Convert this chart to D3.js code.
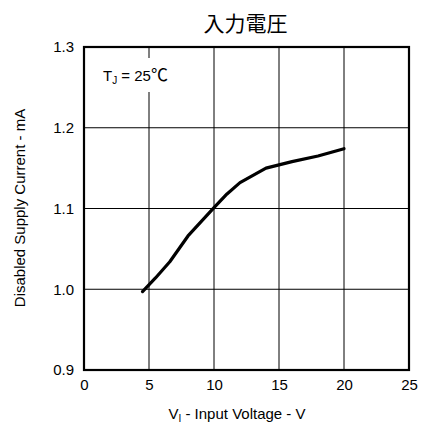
<!DOCTYPE html>
<html><head><meta charset="utf-8">
<script src="https://cdn.jsdelivr.net/npm/d3@7"></script>
<style>body{margin:0;background:#fff}svg{display:block}text{font-family:"Liberation Sans",Arial,sans-serif;fill:#000}</style>
</head><body><svg id="c" width="426" height="428"></svg>
<script>
const voltage = [4.5, 5.5, 6.6, 8, 10, 11, 12, 14, 16, 18, 20];
const current = [0.997, 1.014, 1.034, 1.066, 1.101, 1.118, 1.132, 1.150, 1.158, 1.165, 1.174];
const xTicks = [0, 5, 10, 15, 20, 25];
const yTicks = [0.9, 1.0, 1.1, 1.2, 1.3];

const svg = d3.select("#c");
const L = 84, R = 409, T = 47, B = 370;
const FS = 15;
const x = d3.scaleLinear().domain([0, 25]).range([L, R]);
const y = d3.scaleLinear().domain([0.9, 1.3]).range([B, T]);

const g = svg.append("g");
g.selectAll(".gx").data(xTicks).enter().append("line")
  .attr("x1", d => x(d)).attr("x2", d => x(d)).attr("y1", T).attr("y2", B)
  .attr("stroke", "#000").attr("stroke-width", 1);
g.selectAll(".gy").data(yTicks).enter().append("line")
  .attr("y1", d => y(d)).attr("y2", d => y(d)).attr("x1", L).attr("x2", R)
  .attr("stroke", "#000").attr("stroke-width", 1);

const xAxis = d3.axisBottom(x).tickValues(xTicks).tickSize(0).tickPadding(9).tickFormat(d3.format("d"));
const gx = svg.append("g").attr("transform", `translate(0,${B})`).call(xAxis);
gx.select(".domain").remove();
gx.selectAll("text").attr("font-size", FS).attr("font-family", "Liberation Sans, Arial, sans-serif");

const yAxis = d3.axisLeft(y).tickValues(yTicks).tickSize(0).tickPadding(10).tickFormat(d3.format(".1f"));
const gy = svg.append("g").attr("transform", `translate(${L},0)`).call(yAxis);
gy.select(".domain").remove();
gy.selectAll("text").attr("font-size", FS).attr("font-family", "Liberation Sans, Arial, sans-serif");

// annotation with white background
const ann = svg.append("g");
ann.append("rect").attr("x", 100).attr("y", 58).attr("width", 76).attr("height", 34).attr("fill", "#fff");
const t = ann.append("text").attr("x", 103).attr("y", 81).attr("font-size", FS);
t.append("tspan").text("T");
t.append("tspan").attr("font-size", 10).attr("dy", 3).text("J");
t.append("tspan").attr("dy", -3).text(" = 25");
t.append("tspan").style("font-family", "'Noto Sans CJK JP', sans-serif").attr("font-size", 17).text("℃");

// curve
const line = d3.line().x((d, i) => x(voltage[i])).y((d, i) => y(current[i]));
svg.append("path").datum(current).attr("d", line)
  .attr("fill", "none").attr("stroke", "#000").attr("stroke-width", 3.2).attr("stroke-linecap", "round").attr("stroke-linejoin", "round");

// frame
svg.append("rect").attr("x", L).attr("y", T).attr("width", R - L).attr("height", B - T)
  .attr("fill", "none").attr("stroke", "#000").attr("stroke-width", 2.2);

// titles
svg.append("text").attr("x", (L + R) / 2 - 1).attr("y", 31).attr("text-anchor", "middle")
  .attr("font-size", 21).style("font-family", "'Noto Sans CJK JP', sans-serif").text("入力電圧");

const xl = svg.append("text").attr("x", 237).attr("y", 419).attr("text-anchor", "middle").attr("font-size", FS);
xl.append("tspan").text("V");
xl.append("tspan").attr("font-size", 10).attr("dy", 3).text("I");
xl.append("tspan").attr("dy", -3).text(" - Input Voltage - V");

svg.append("text").attr("transform", `translate(25,208) rotate(-90)`).attr("text-anchor", "middle")
  .attr("font-size", FS).text("Disabled Supply Current - mA");
</script></body></html>
